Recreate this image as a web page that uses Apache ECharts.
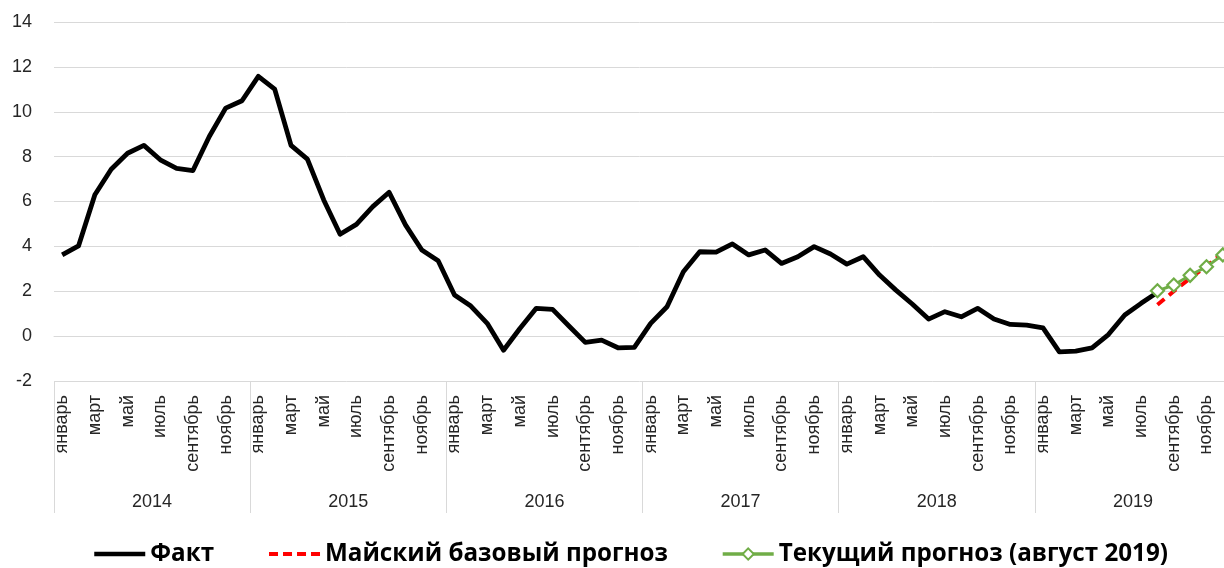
<!DOCTYPE html>
<html>
<head>
<meta charset="utf-8">
<script src="https://cdn.jsdelivr.net/npm/echarts@6/dist/echarts.min.js"></script>
<style>
html,body{margin:0;padding:0;background:#fff;}
#chart{width:1224px;height:568px;}
</style>
</head>
<body>
<div id="chart"></div>
<script>
var years = ['2014','2015','2016','2017','2018','2019'];
var monthNames = ['январь','февраль','март','апрель','май','июнь','июль','август','сентябрь','октябрь','ноябрь','декабрь'];

var fact = [
  3.62, 4.02, 6.30, 7.44, 8.15, 8.50, 7.86, 7.48, 7.38, 8.90, 10.16, 10.49,
  11.58, 11.01, 8.50, 7.89, 6.07, 4.54, 4.98, 5.77, 6.41, 4.96, 3.84, 3.36,
  1.83, 1.34, 0.57, -0.63, 0.34, 1.24, 1.19, 0.45, -0.28, -0.18, -0.52, -0.50,
  0.57, 1.31, 2.87, 3.76, 3.74, 4.11, 3.62, 3.84, 3.24, 3.54, 3.99, 3.66,
  3.21, 3.54, 2.72, 2.05, 1.43, 0.76, 1.09, 0.86, 1.24, 0.76, 0.52, 0.49,
  0.37, -0.70, -0.67, -0.52, 0.07, 0.94, 1.46, 1.95, null, null, null, null
];
var mayForecast = [
  null,null,null,null,null,null,null,null,null,null,null,null,
  null,null,null,null,null,null,null,null,null,null,null,null,
  null,null,null,null,null,null,null,null,null,null,null,null,
  null,null,null,null,null,null,null,null,null,null,null,null,
  null,null,null,null,null,null,null,null,null,null,null,null,
  null,null,null,null,null,null,null,1.40, 2.00, 2.58, 3.12, 3.70
];
var currentForecast = [
  null,null,null,null,null,null,null,null,null,null,null,null,
  null,null,null,null,null,null,null,null,null,null,null,null,
  null,null,null,null,null,null,null,null,null,null,null,null,
  null,null,null,null,null,null,null,null,null,null,null,null,
  null,null,null,null,null,null,null,null,null,null,null,null,
  null,null,null,null,null,null,null,2.02, 2.28, 2.71, 3.09, 3.62
];
var seriesNames = ['Факт','Майский базовый прогноз','Текущий прогноз (август 2019)'];

var categories = [];
years.forEach(function(y){ monthNames.forEach(function(m, i){ categories.push(y + '-' + (i+1)); }); });

var FONT = 'Liberation Sans';
var hidden = {color: 'rgba(0,0,0,0)', borderColor: 'rgba(0,0,0,0)', borderWidth: 0};
var chart = echarts.init(document.getElementById('chart'), null, {renderer:'canvas'});
chart.setOption({
  animation: false,
  backgroundColor: '#ffffff',
  grid: {left: 54, top: 22, width: 1177, height: 359, containLabel: false, outerBoundsMode: 'none'},
  legend: {
    left: 92, top: 542, padding: 0,
    itemWidth: 51, itemHeight: 14, itemGap: 53,
    textStyle: {fontFamily: 'Open Sans', fontSize: 24.2, fontWeight: 'bold', color: '#000'},
    data: [
      {name: seriesNames[0], itemStyle: hidden, lineStyle: {width: 4.5}},
      {name: seriesNames[1], itemStyle: hidden, lineStyle: {width: 4, type: [9, 5]}},
      {name: seriesNames[2], lineStyle: {width: 3.5}}
    ]
  },
  xAxis: [
    {
      type: 'category', position: 'bottom', data: categories, boundaryGap: true,
      axisLine: {show: true, lineStyle: {color: '#d9d9d9', width: 1}},
      axisTick: {show: false},
      axisLabel: {
        interval: 1, rotate: 90, margin: 14,
        fontFamily: FONT, fontSize: 18, color: '#262626',
        formatter: function(v, idx){ return monthNames[idx % 12]; }
      },
      splitLine: {show: false}
    },
    {
      type: 'category', position: 'bottom', data: years, boundaryGap: true,
      axisLine: {show: false},
      axisTick: {show: true, length: 132, interval: 0, lineStyle: {color: '#d9d9d9', width: 1}},
      axisLabel: {interval: 0, margin: 112, fontFamily: FONT, fontSize: 18, color: '#262626'},
      splitLine: {show: false}
    }
  ],
  yAxis: {
    type: 'value', min: -2, max: 14, interval: 2,
    axisLine: {show: false}, axisTick: {show: false},
    axisLabel: {margin: 22, fontFamily: FONT, fontSize: 18, color: '#262626'},
    splitLine: {show: true, lineStyle: {color: '#d9d9d9', width: 1}}
  },
  series: [
    {
      name: seriesNames[0], type: 'line', xAxisIndex: 0, data: fact,
      symbol: 'none', connectNulls: false,
      lineStyle: {color: '#000000', width: 4.8, join: 'round'},
      itemStyle: {color: '#000000'}, z: 2
    },
    {
      name: seriesNames[1], type: 'line', xAxisIndex: 0, data: mayForecast,
      symbol: 'none',
      lineStyle: {color: '#ff0000', width: 4, type: [9, 6]},
      itemStyle: {color: '#ff0000'}, z: 3
    },
    {
      name: seriesNames[2], type: 'line', xAxisIndex: 0, data: currentForecast,
      symbol: 'diamond', symbolSize: 13, showSymbol: true, showAllSymbol: true,
      lineStyle: {color: '#70ad47', width: 3},
      itemStyle: {color: '#ffffff', borderColor: '#70ad47', borderWidth: 2.2},
      z: 4
    }
  ]
});
</script>
</body>
</html>
